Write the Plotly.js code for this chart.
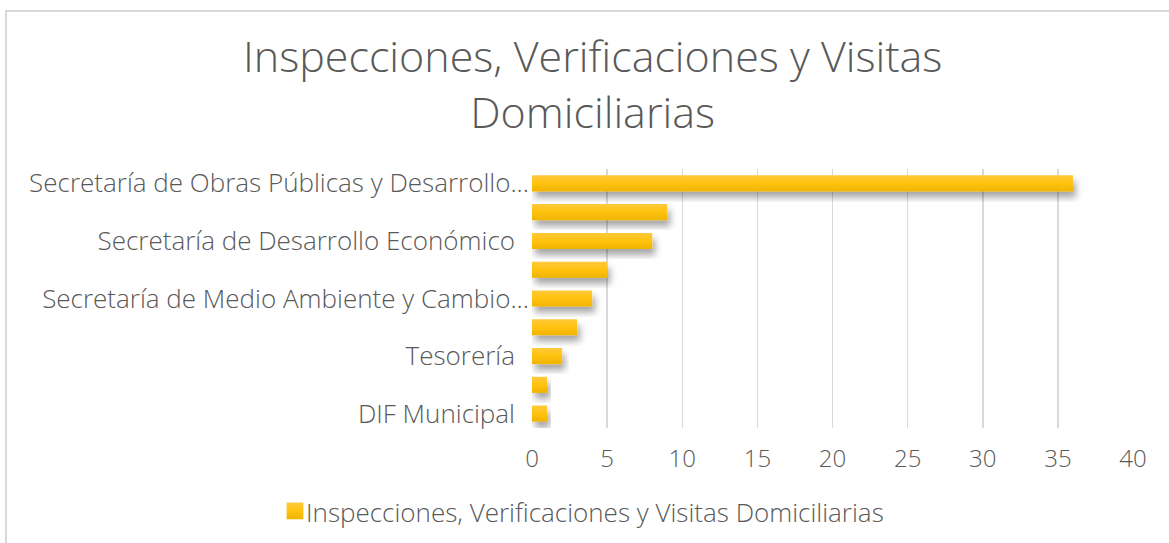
<!DOCTYPE html>
<html><head><meta charset="utf-8">
<script src="https://cdn.plot.ly/plotly-3.0.1.min.js"></script>
<style>
html,body{margin:0;padding:0;background:#fff;overflow:hidden;width:1169px;height:543px}
#frame{position:absolute;left:5px;top:10px;width:1170px;height:600px;border:2px solid #d9d9d9;box-sizing:border-box}
#chart{position:absolute;left:0;top:0;width:1169px;height:543px}
</style></head>
<body>
<svg width="0" height="0" style="position:absolute">
<defs>
<linearGradient id="barGrad" x1="0" y1="0" x2="0" y2="1">
<stop offset="0" stop-color="#FFC93C"/>
<stop offset="0.5" stop-color="#FFC20E"/>
<stop offset="1" stop-color="#F0B400"/>
</linearGradient>
<filter id="barShadow" x="-10%" y="-40%" width="130%" height="200%">
<feDropShadow dx="3" dy="6" stdDeviation="3.5" flood-color="#000" flood-opacity="0.35"/>
</filter>
</defs>
</svg>
<div id="frame"></div>
<div id="chart"></div>
<script>
const categories = [
  "Secretaría de Obras Públicas y Desarrollo...",
  "",
  "Secretaría de Desarrollo Económico",
  "",
  "Secretaría de Medio Ambiente y Cambio...",
  "",
  "Tesorería",
  "",
  "DIF Municipal"
];
const values = [36, 9, 8, 5, 4, 3, 2, 1, 1];
const seriesName = "Inspecciones, Verificaciones y Visitas Domiciliarias";
const titleLines = ["Inspecciones, Verificaciones y Visitas", "Domiciliarias"];
const xTicks = [0, 5, 10, 15, 20, 25, 30, 35, 40];

const yIdx = categories.map((_, i) => i);
const tickVals = yIdx.filter(i => categories[i] !== "");
const tickText = tickVals.map(i => categories[i]);

const font = {family: "Open Sans, Lato, sans-serif", color: "#595959", weight: 300};

const trace = {
  type: "bar",
  orientation: "h",
  x: values,
  y: yIdx,
  name: seriesName,
  width: 0.56,
  marker: {color: "#FFC000", line: {width: 0}},
  hoverinfo: "x",
  showlegend: true
};

// plot area: top 169px, bottom 428px (height 259), left 532px, width 601px
const toPaperY = p => (428 - p) / 259;
const toPaperX = p => (p - 532) / 601;

const layout = {
  width: 1169, height: 543,
  paper_bgcolor: "rgba(0,0,0,0)",
  plot_bgcolor: "rgba(0,0,0,0)",
  margin: {l: 532, r: 36, t: 169, b: 115, pad: 0},
  font: Object.assign({}, font, {size: 24}),
  annotations: [
    {text: titleLines.join("<br>"), xref: "paper", yref: "paper", x: toPaperX(592), y: toPaperY(83),
     xanchor: "center", yanchor: "middle", align: "center", showarrow: false,
     font: Object.assign({}, font, {size: 43})}
  ],
  xaxis: {
    range: [0, 40],
    tickvals: xTicks,
    ticktext: xTicks.map(String),
    showgrid: true, gridcolor: "#d9d9d9", gridwidth: 1.5,
    zeroline: false, showline: false, ticks: "",
    ticklabelstandoff: 14,
    tickfont: Object.assign({}, font, {size: 24}),
    fixedrange: true
  },
  yaxis: {
    range: [8.5, -0.5],
    tickvals: tickVals,
    ticktext: tickText,
    showgrid: false, zeroline: false, showline: false, ticks: "",
    ticklabelstandoff: 2,
    tickfont: Object.assign({}, font, {size: 26}),
    fixedrange: true
  },
  legend: {
    orientation: "h",
    x: 266/1169, xanchor: "left", xref: "container",
    y: 1 - 512/543, yanchor: "middle", yref: "container",
    font: Object.assign({}, font, {size: 26}),
    bgcolor: "rgba(0,0,0,0)"
  },
  showlegend: true
};

function styleBars() {
  document.querySelectorAll("#chart .barlayer .point path").forEach(p => {
    p.style.fill = "url(#barGrad)";
    p.setAttribute("filter", "url(#barShadow)");
  });
  document.querySelectorAll("#chart .legend .legendpoints path").forEach(p => {
    p.style.fill = "url(#barGrad)";
    p.setAttribute("transform", "translate(29,-1) scale(1.4)");
  });
  // full labels (not truncated) sit a little further from the axis, as in the source
  document.querySelectorAll("#chart .ytick text").forEach(t => {
    if (!t.textContent.endsWith("...")) {
      t.setAttribute("x", parseFloat(t.getAttribute("x")) - 14);
    }
  });
}

Plotly.newPlot("chart", [trace], layout, {displayModeBar: false, staticPlot: true}).then(styleBars);
</script>
</body></html>
